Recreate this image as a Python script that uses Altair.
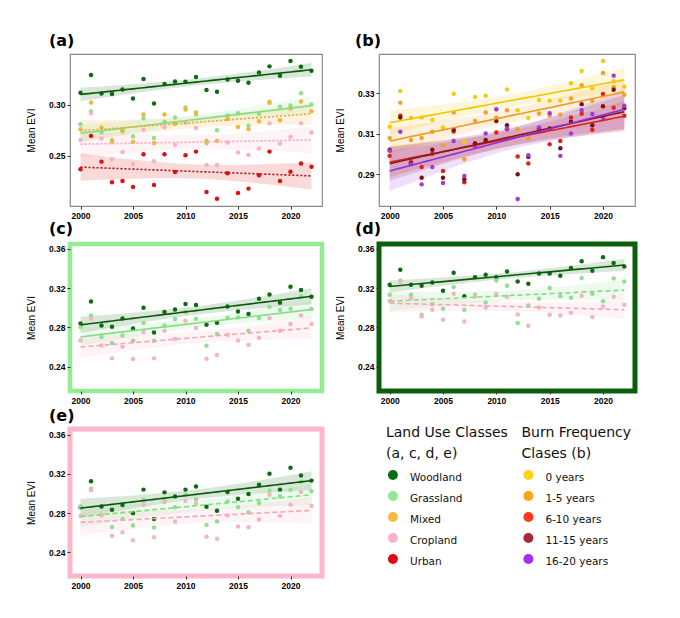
import altair as alt
import numpy as np
import pandas as pd

YEARS = list(range(2000, 2023))
X_TICKS = [2000, 2005, 2010, 2015, 2020]
PANEL_LABELS = ["(a)", "(b)", "(c)", "(d)", "(e)"]

# ---- panel (a): land use classes ----
a_woodland = [0.3118, 0.3291, 0.3111, 0.3105, 0.3150, 0.3062, 0.3252, 0.3013, 0.3203, 0.3229, 0.3226, 0.3271,
              0.3144, 0.3127, 0.3248, 0.3235, 0.3216, 0.3317, 0.3376, 0.3284, 0.3428, 0.3373, 0.3333]
a_grassland = [0.2810, 0.2935, 0.2729, 0.2657, 0.2739, 0.2690, 0.2869, 0.2676, 0.2833, 0.2876, 0.2974, 0.2908,
               0.2624, 0.2752, 0.2895, 0.2918, 0.2794, 0.2912, 0.3029, 0.2980, 0.2993, 0.3114, 0.3003]
a_mixed = [0.2760, 0.3023, 0.2778, 0.2640, 0.2750, 0.2637, 0.2905, 0.2627, 0.2905, 0.2814, 0.2954, 0.2925,
           0.2647, 0.2647, 0.2860, 0.2784, 0.2761, 0.2840, 0.3020, 0.2850, 0.2964, 0.3033, 0.2938]
a_cropland = [0.2657, 0.2918, 0.2670, 0.2467, 0.2539, 0.2422, 0.2755, 0.2448, 0.2781, 0.2608, 0.2827, 0.2774,
              0.2412, 0.2412, 0.2631, 0.2533, 0.2510, 0.2572, 0.2820, 0.2621, 0.2686, 0.2820, 0.2729]
a_urban = [0.2369, 0.2696, 0.2444, 0.2242, 0.2255, 0.2196, 0.2516, 0.2216, 0.2516, 0.2343, 0.2507, 0.2542,
           0.2147, 0.2082, 0.2330, 0.2137, 0.2180, 0.2310, 0.2542, 0.2255, 0.2346, 0.2425, 0.2395]

# ---- panel (b): burn frequency classes ----
b_0 = [0.3135, 0.3312, 0.3178, 0.3181, 0.3169, 0.3131, 0.3298, 0.3060, 0.3282, 0.3288, 0.3220, 0.3320,
       0.3217, 0.3178, 0.3267, 0.3264, 0.3265, 0.3350, 0.3411, 0.3326, 0.3460, 0.3360, 0.3333]
b_1_5 = [0.3080, 0.3254, 0.3069, 0.3080, 0.3110, 0.3044, 0.3206, 0.2974, 0.3163, 0.3206, 0.3180, 0.3217,
         0.3123, 0.3077, 0.3201, 0.3189, 0.3194, 0.3275, 0.3341, 0.3264, 0.3401, 0.3330, 0.3293]
b_6_10 = [0.2991, 0.3189, 0.2960, 0.2936, 0.3002, 0.2916, 0.3112, 0.2860, 0.3052, 0.3062, 0.3107, 0.3123,
          0.2988, 0.2953, 0.3115, 0.3049, 0.3065, 0.3181, 0.3200, 0.3120, 0.3297, 0.3229, 0.3189]
b_11_15 = [0.3021, 0.3181, 0.2955, 0.2883, 0.3021, 0.2883, 0.3120, 0.2875, 0.3052, 0.3070, 0.3164, 0.3143,
           0.2900, 0.2986, 0.3128, 0.3126, 0.3029, 0.3160, 0.3247, 0.3143, 0.3236, 0.3318, 0.3226]
b_16_20 = [0.3016, 0.3110, 0.2950, 0.2850, 0.2936, 0.2857, 0.3065, 0.2892, 0.3037, 0.3102, 0.3222, 0.3126,
           0.2778, 0.2994, 0.3131, 0.3202, 0.2991, 0.3102, 0.3217, 0.3198, 0.3180, 0.3388, 0.3239]

# ---- panels (c), (d), (e) ----
c_woodland = [0.2840, 0.3064, 0.2819, 0.2806, 0.2891, 0.2789, 0.2999, 0.2748, 0.2955, 0.2982, 0.3037, 0.3027,
              0.2826, 0.2847, 0.3013, 0.2962, 0.2935, 0.3091, 0.3135, 0.3050, 0.3214, 0.3180, 0.3112]
c_grassland = [0.2802, 0.2921, 0.2700, 0.2639, 0.2717, 0.2663, 0.2843, 0.2663, 0.2819, 0.2884, 0.2955, 0.2887,
               0.2612, 0.2731, 0.2897, 0.2901, 0.2765, 0.2894, 0.3010, 0.2976, 0.2989, 0.3115, 0.2986]
c_cropland = [0.2666, 0.2887, 0.2615, 0.2483, 0.2602, 0.2476, 0.2751, 0.2483, 0.2765, 0.2680, 0.2867, 0.2792,
              0.2479, 0.2517, 0.2724, 0.2666, 0.2622, 0.2694, 0.2894, 0.2765, 0.2833, 0.2921, 0.2833]

d_woodland = [0.3234, 0.3387, 0.3234, 0.3224, 0.3258, 0.3173, 0.3356, 0.3118, 0.3312, 0.3336, 0.3312, 0.3370,
              0.3268, 0.3244, 0.3350, 0.3350, 0.3326, 0.3404, 0.3475, 0.3377, 0.3516, 0.3455, 0.3421]
d_grassland = [0.3132, 0.3275, 0.3132, 0.2928, 0.3037, 0.2989, 0.3210, 0.2979, 0.3132, 0.3054, 0.3278, 0.3224,
               0.2843, 0.3023, 0.3091, 0.3200, 0.3118, 0.3101, 0.3302, 0.3142, 0.3067, 0.3299, 0.3268]
d_cropland = [0.3071, 0.3261, 0.3098, 0.2911, 0.2979, 0.2877, 0.3142, 0.2860, 0.3115, 0.3003, 0.3139, 0.3112,
              0.2930, 0.2816, 0.3003, 0.2928, 0.2921, 0.2948, 0.3122, 0.2904, 0.3013, 0.3112, 0.3030]

e_woodland = [0.2860, 0.3125, 0.2867, 0.2833, 0.2881, 0.2799, 0.3039, 0.2740, 0.3011, 0.2970, 0.3039, 0.3070,
              0.2864, 0.2823, 0.3015, 0.2946, 0.2994, 0.3090, 0.3200, 0.3039, 0.3262, 0.3183, 0.3131]
e_grassland = [0.2867, 0.3049, 0.2778, 0.2658, 0.2740, 0.2672, 0.2933, 0.2651, 0.2926, 0.2860, 0.2987, 0.2939,
               0.2679, 0.2713, 0.2919, 0.2860, 0.2809, 0.2902, 0.3030, 0.2970, 0.3035, 0.3120, 0.3022]
e_cropland = [0.2771, 0.3032, 0.2782, 0.2569, 0.2603, 0.2521, 0.2885, 0.2552, 0.2912, 0.2713, 0.2926, 0.2898,
              0.2559, 0.2538, 0.2775, 0.2662, 0.2655, 0.2734, 0.2987, 0.2771, 0.2885, 0.3015, 0.2874]

# legend
LAND_USE = ["Woodland", "Grassland", "Mixed", "Cropland", "Urban"]
LAND_USE_COLORS = ["#0e6b16", "#90e890", "#f4bb3c", "#f9b3c6", "#e30613"]
BURN = ["0 years", "1-5 years", "6-10 years", "11-15 years", "16-20 years"]
BURN_COLORS = ["#ffd21a", "#ffa412", "#ff3a1a", "#a8283a", "#a22ef0"]
LEGEND_TITLES = [["Land Use Classes", "(a, c, d, e)"], ["Burn Frequency", "Clases (b)"]]

# series styles: (point colour, line colour)
STY = {
    "Woodland": ("#0f6b12", "#0a5a0a"),
    "Grassland": ("#8fe08f", "#84dc84"),
    "Mixed": ("#f2b53a", "#f0a830"),
    "Cropland": ("#f7b3c2", "#f4a6b8"),
    "Urban": ("#dd1111", "#b01010"),
    "0 years": ("#f8c912", "#f5c400"),
    "1-5 years": ("#f3a126", "#f09a20"),
    "6-10 years": ("#e3201b", "#e02020"),
    "11-15 years": ("#7d1014", "#8b1a1a"),
    "16-20 years": ("#9b3be0", "#9030d8"),
}
DASHES = {"dotted": [2, 2], "dashed": [5, 3]}

AX_FONT = "Liberation Sans"


def fit_band(vals):
    x = np.array(YEARS, dtype=float)
    y = np.array(vals, dtype=float)
    n = len(x)
    b, a = np.polyfit(x, y, 1)
    resid = y - (a + b * x)
    s = np.sqrt((resid ** 2).sum() / (n - 2))
    xm = x.mean()
    sxx = ((x - xm) ** 2).sum()
    xg = np.linspace(x.min(), x.max(), 45)
    yh = a + b * xg
    se = s * np.sqrt(1.0 / n + (xg - xm) ** 2 / sxx)
    t = 2.0796  # t(0.975, df=21)
    return xg, yh, yh - t * se, yh + t * se


def panel(series, ydom, yticks, w, h, label, dx, dy, border, bwidth):
    prow, frow = [], []
    for name, vals, style in series:
        pc, lc = STY[name]
        for yr, v in zip(YEARS, vals):
            prow.append({"year": yr, "value": v, "series": name, "pc": pc})
        xg, yh, lo, hi = fit_band(vals)
        for xx, f, l, u in zip(xg, yh, lo, hi):
            frow.append({"year": xx, "fit": f, "lo": l, "hi": u, "series": name,
                         "pc": pc, "lc": lc, "style": style})
    pdf = pd.DataFrame(prow)
    fdf = pd.DataFrame(frow)

    xs = alt.Scale(domain=[1999, 2023], nice=False, zero=False)
    ys = alt.Scale(domain=ydom, nice=False, zero=False)
    xax = alt.Axis(values=X_TICKS, format="d", title=None, grid=False, domain=False,
                   tickColor="#333", tickSize=3, labelFont=AX_FONT, labelFontSize=8.5,
                   labelFontWeight="bold", labelColor="black", labelPadding=2)
    yax = alt.Axis(values=yticks, format=".2f", title="Mean EVI", grid=False, domain=False,
                   tickColor="#333", tickSize=3, labelFont=AX_FONT, labelFontSize=8.5,
                   labelFontWeight="bold", labelColor="black", labelPadding=2,
                   titleFont=AX_FONT, titleFontSize=10, titleFontWeight="normal",
                   titleColor="black", titlePadding=12)

    def X(f):
        return alt.X(f"{f}:Q", scale=xs, axis=xax, title=None)

    def Y(f):
        return alt.Y(f"{f}:Q", scale=ys, axis=yax, title="Mean EVI")

    band = alt.Chart(fdf).mark_area(opacity=0.16, clip=True).encode(
        x=X("year"), y=Y("lo"), y2="hi:Q",
        fill=alt.Fill("pc:N", scale=None), detail="series:N")
    pts = alt.Chart(pdf).mark_circle(size=20, opacity=1, clip=True).encode(
        x=X("year"), y=Y("value"), color=alt.Color("pc:N", scale=None))
    layers = [band, pts]
    for st in ["solid", "dotted", "dashed"]:
        sub = fdf[fdf["style"] == st]
        if len(sub) == 0:
            continue
        if st == "solid":
            mk = alt.Chart(sub).mark_line(strokeWidth=1.6, clip=True)
        else:
            mk = alt.Chart(sub).mark_line(strokeWidth=1.6, strokeDash=DASHES[st], clip=True)
        layers.append(mk.encode(x=X("year"), y=Y("fit"),
                                stroke=alt.Stroke("lc:N", scale=None), detail="series:N"))
    lab = alt.Chart(pd.DataFrame({"t": [label]})).mark_text(
        align="left", baseline="alphabetic", font="DejaVu Sans", fontSize=16,
        fontWeight="bold", color="black").encode(
        text="t:N", x=alt.value(dx), y=alt.value(dy))
    layers.append(lab)
    return alt.layer(*layers).properties(
        width=w, height=h,
        view=alt.ViewBackground(stroke=border, strokeWidth=bwidth, fill="white"),
    )


W1, W2 = 252, 256
pa = panel([("Woodland", a_woodland, "solid"), ("Grassland", a_grassland, "solid"),
            ("Mixed", a_mixed, "dotted"), ("Cropland", a_cropland, "dotted"),
            ("Urban", a_urban, "dotted")],
           [0.201, 0.3497], [0.25, 0.30], W1, 152, PANEL_LABELS[0], -21, -8, "#8a8a8a", 1.2)
pb = panel([("0 years", b_0, "solid"), ("1-5 years", b_1_5, "solid"),
            ("6-10 years", b_6_10, "solid"), ("11-15 years", b_11_15, "solid"),
            ("16-20 years", b_16_20, "solid")],
           [0.2743, 0.3495], [0.29, 0.31, 0.33], W2, 152, PANEL_LABELS[1], -24, -8, "#8a8a8a", 1.2)
pc = panel([("Woodland", c_woodland, "solid"), ("Grassland", c_grassland, "solid"),
            ("Cropland", c_cropland, "dashed")],
           [0.215, 0.365], [0.24, 0.28, 0.32, 0.36], W1, 147, PANEL_LABELS[2], -21, -10, "#92ec92", 4.5)
pd_ = panel([("Woodland", d_woodland, "solid"), ("Grassland", d_grassland, "dashed"),
             ("Cropland", d_cropland, "dashed")],
            [0.215, 0.365], [0.24, 0.28, 0.32, 0.36], W2, 147, PANEL_LABELS[3], -24, -10, "#0b5e0b", 5)
pe = panel([("Woodland", e_woodland, "solid"), ("Grassland", e_grassland, "dashed"),
            ("Cropland", e_cropland, "dashed")],
           [0.2157, 0.3658], [0.24, 0.28, 0.32, 0.36], W1, 147, PANEL_LABELS[4], -21, -8, "#ffb6c9", 5)

# ---- legend panel ----
lt_rows, li_rows = [], []
for c, lines in enumerate(LEGEND_TITLES):
    for r, txt in enumerate(lines):
        lt_rows.append({"col": c, "row": r, "text": txt})
for c, (labels, cols) in enumerate([(LAND_USE, LAND_USE_COLORS), (BURN, BURN_COLORS)]):
    for i, (lab_, colr) in enumerate(zip(labels, cols)):
        li_rows.append({"col": c, "row": i + 2, "label": lab_, "color": colr})
ltdf = pd.DataFrame(lt_rows)
lidf = pd.DataFrame(li_rows)
lxs = alt.Scale(domain=[-0.103, 1.787], nice=False, zero=False)
lys = alt.Scale(domain=[-0.19, 6.81], nice=False, zero=False, reverse=True)
leg_title = alt.Chart(ltdf).mark_text(align="left", baseline="middle", dx=-7, font="DejaVu Sans",
                                      fontSize=14, color="#111").encode(
    x=alt.X("col:Q", scale=lxs, axis=None), y=alt.Y("row:Q", scale=lys, axis=None), text="text:N")
leg_dot = alt.Chart(lidf).mark_circle(size=100, opacity=1, dy=3).encode(
    x=alt.X("col:Q", scale=lxs, axis=None), y=alt.Y("row:Q", scale=lys, axis=None),
    color=alt.Color("color:N", scale=None))
leg_text = alt.Chart(lidf).mark_text(align="left", baseline="middle", dx=17, dy=3, font="DejaVu Sans",
                                     fontSize=10.5, color="#111").encode(
    x=alt.X("col:Q", scale=lxs, axis=None), y=alt.Y("row:Q", scale=lys, axis=None), text="label:N")
legend = alt.layer(leg_title, leg_dot, leg_text).properties(
    width=W2, height=147, view=alt.ViewBackground(strokeOpacity=0, fill="white"))

chart = alt.concat(pa, pb, pc, pd_, pe, legend, columns=2,
                   spacing=alt.RowColnumber(row=38, column=57), bounds="flush").properties(
    padding={"left": 15, "top": 24, "right": 5, "bottom": 5}, background="white")

chart.save("out.html", embed_options={"renderer": "svg", "actions": False})
